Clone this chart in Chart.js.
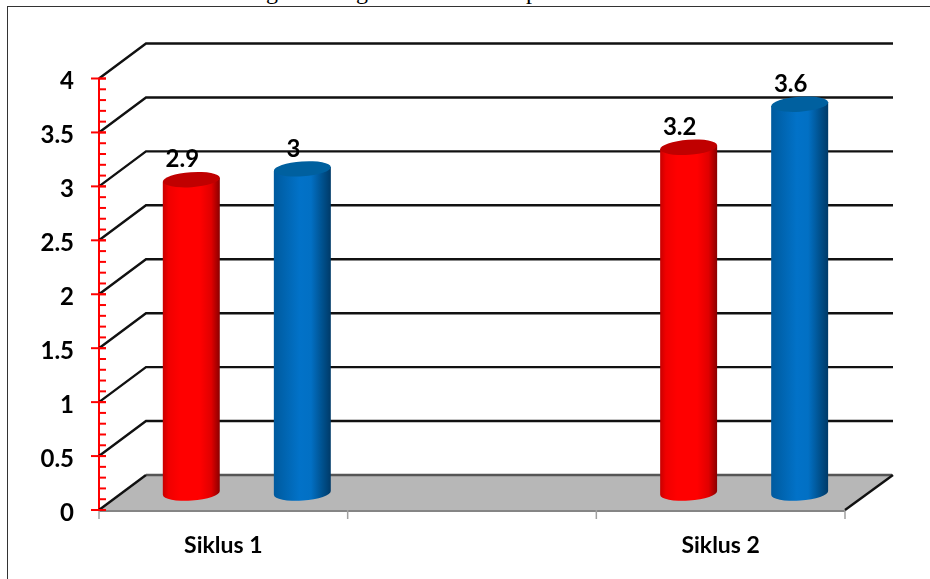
<!DOCTYPE html>
<html><head><meta charset="utf-8">
<style>
html,body{margin:0;padding:0;background:#fff;overflow:hidden}
#wrap{position:absolute;left:0;top:0;width:930px;height:579px;overflow:hidden}
#frame{position:absolute;left:7px;top:6px;width:940px;height:600px;border:1px solid #333;box-sizing:border-box}
.cap{position:absolute;top:-22px;font:24px "Liberation Serif",serif;color:#000}
canvas{position:absolute;left:0;top:0}
</style>
<script src="https://cdn.jsdelivr.net/npm/chart.js@4/dist/chart.umd.js"></script>
</head><body>
<div id="wrap"><span class="cap" style="left:266px">g</span><span class="cap" style="left:356px">g</span><span class="cap" style="left:526px">p</span><div id="frame"></div><canvas id="c" width="930" height="579"></canvas></div>
<script>
const categories = ["Siklus 1", "", "Siklus 2"];
const seriesRed = [2.9, null, 3.2];
const seriesBlue = [3, null, 3.6];
const yMin = 0, yMax = 4, yStep = 0.5, yMinorStep = 0.1;

const DX = 47, DY = -35;           // depth of the 3D box
const FONT = 'Lato, Carlito, sans-serif';

function shade(ctx, l, r, stops){
  const g = ctx.createLinearGradient(l,0,r,0);
  stops.forEach(s=>g.addColorStop(s[0],s[1]));
  return g;
}
const palettes = {
  red:{ body:[[0,'#c80000'],[0.1,'#f00000'],[0.3,'#ff0000'],[0.65,'#ff0000'],[0.85,'#e00000'],[1,'#8a0000']], top:'#c00000' },
  blue:{ body:[[0,'#005a9e'],[0.15,'#0062ac'],[0.45,'#0272c8'],[0.65,'#0270c4'],[0.85,'#00518e'],[1,'#003a68']], top:'#00609f' }
};

const box3d = {
  id:'box3d',
  beforeDatasetsDraw(chart){
    const {ctx, chartArea:a, scales:{x,y}} = chart;
    ctx.save();
    // floor
    ctx.fillStyle='#b7b7b7';
    ctx.beginPath();
    ctx.moveTo(a.left,a.bottom);ctx.lineTo(a.left+DX,a.bottom+DY);
    ctx.lineTo(a.right+DX,a.bottom+DY);ctx.lineTo(a.right,a.bottom);ctx.closePath();ctx.fill();
    // front floor edge
    ctx.strokeStyle='#858585';ctx.lineWidth=2;
    ctx.beginPath();ctx.moveTo(a.left,a.bottom+1);ctx.lineTo(a.right,a.bottom+1);ctx.stroke();
    // category ticks
    ctx.strokeStyle='#a0a0a0';ctx.lineWidth=1.5;
    for(let i=0;i<=categories.length;i++){
      const px=a.left+(a.right-a.left)*i/categories.length;
      ctx.beginPath();ctx.moveTo(px,a.bottom);ctx.lineTo(px,a.bottom+9);ctx.stroke();
    }
    // walls
    ctx.lineWidth=2.4;ctx.strokeStyle='#111';
    y.ticks.forEach(t=>{
      const py=y.getPixelForValue(t.value);
      if(t.value===yMin){
        ctx.strokeStyle='#555';
        ctx.beginPath();ctx.moveTo(a.left+DX,py+DY);ctx.lineTo(a.right+DX,py+DY);ctx.stroke();
        ctx.strokeStyle='#111';
        ctx.beginPath();ctx.moveTo(a.left,py);ctx.lineTo(a.left+DX,py+DY);ctx.stroke();
        ctx.beginPath();ctx.moveTo(a.right+DX+1,py+DY);ctx.lineTo(a.right,py);ctx.stroke();
      } else {
        ctx.beginPath();ctx.moveTo(a.left,py);ctx.lineTo(a.left+DX,py+DY);
        ctx.lineTo(a.right+DX+1,py+DY);ctx.stroke();
      }
    });
    // minor ticks
    ctx.strokeStyle='#ff0000';ctx.lineWidth=2;
    const n=Math.round((yMax-yMin)/yMinorStep);
    for(let i=0;i<=n;i++){
      const py=y.getPixelForValue(yMin+i*yMinorStep);
      ctx.beginPath();ctx.moveTo(a.left,py);ctx.lineTo(a.left+7,py);ctx.stroke();
    }
    y.ticks.forEach(t=>{
      const py=y.getPixelForValue(t.value);
      ctx.beginPath();ctx.moveTo(a.left-8,py);ctx.lineTo(a.left+7,py);ctx.stroke();
    });
    ctx.restore();
  },
  afterDatasetsDraw(chart){
    const {ctx} = chart;
    const sx=DX/2, sy=DY/2;
    const pal=['red','blue'];
    chart.data.datasets.forEach((ds,di)=>{
      const meta=chart.getDatasetMeta(di);
      meta.data.forEach((el,i)=>{
        if(ds.data[i]==null) return;
        const p=el.getProps(['x','y','base','width'],true);
        const cx=p.x+sx, w=p.width, l=cx-w/2, r=cx+w/2;
        const ty=p.y+sy, by=p.base+sy, rx=w/2, ry=7.5, tilt=-0.07;
        const P=palettes[pal[di]];
        ctx.save();
        ctx.fillStyle=shade(ctx,l,r,P.body);
        ctx.beginPath();
        ctx.moveTo(l,ty+2);
        ctx.lineTo(l,by+1);
        ctx.ellipse(cx,by+1,rx,ry,tilt,Math.PI,0,true);
        ctx.lineTo(r,ty-2);
        ctx.closePath();ctx.fill();
        ctx.fillStyle=P.top;
        ctx.beginPath();ctx.ellipse(cx,ty,rx,ry,tilt,0,Math.PI*2);ctx.fill();
        ctx.fillStyle='#000';
        ctx.font='bold 24px '+FONT;ctx.textAlign='center';ctx.textBaseline='middle';
        ctx.fillText(String(ds.data[i]),cx-9,ty-20);
        ctx.restore();
      });
    });
  }
};

new Chart(document.getElementById('c'),{
  type:'bar',
  data:{labels:categories,datasets:[
    {label:'A',data:seriesRed,backgroundColor:'rgba(0,0,0,0)',borderWidth:0},
    {label:'B',data:seriesBlue,backgroundColor:'rgba(0,0,0,0)',borderWidth:0}
  ]},
  plugins:[box3d],
  options:{
    responsive:false,animation:false,
    layout:{padding:{top:78.5,right:85,left:0,bottom:0}},
    plugins:{legend:{display:false},title:{display:false},tooltip:{enabled:false}},
    datasets:{bar:{categoryPercentage:0.893,barPercentage:0.5135}},
    scales:{
      x:{
        offset:true,
        grid:{display:false},
        border:{display:false},
        afterFit(s){s.height=69;},
        ticks:{color:'#000',padding:14,maxRotation:0,autoSkip:false,font:{family:FONT,size:23,weight:'bold'}}
      },
      y:{
        min:yMin,max:yMax,
        afterFit(s){s.width=99;},
        border:{display:true,color:'#ff0000',width:2},
        grid:{drawOnChartArea:false,drawTicks:false},
        ticks:{stepSize:yStep,color:'#000',padding:25,labelOffset:3,font:{family:FONT,size:24,weight:'bold'},callback:v=>String(v)}
      }
    }
  }
});
</script>
</body></html>
